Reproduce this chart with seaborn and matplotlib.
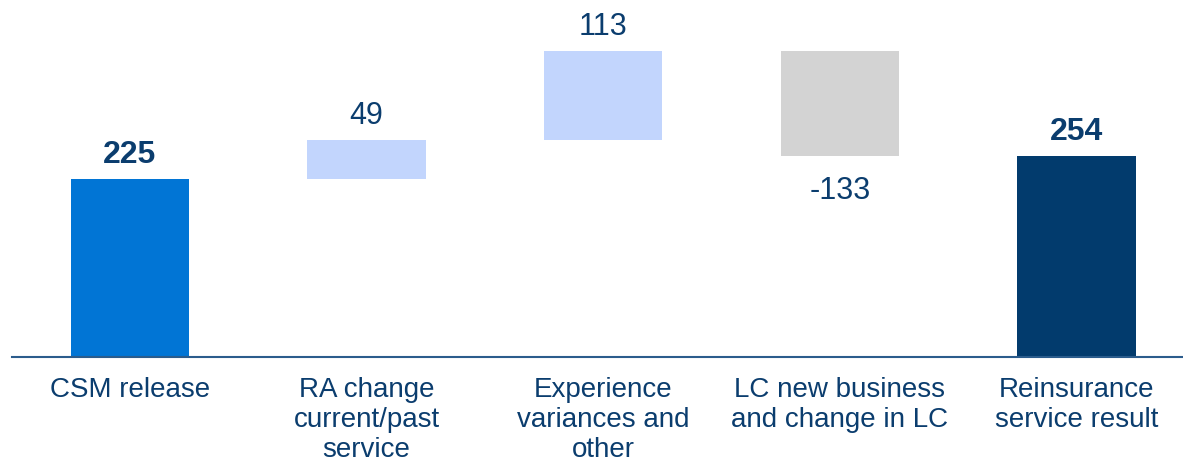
import matplotlib
matplotlib.use("Agg")
import matplotlib.pyplot as plt
import seaborn as sns
import numpy as np
import pandas as pd

categories = ["CSM release", "RA change\ncurrent/past\nservice", "Experience\nvariances and\nother",
              "LC new business\nand change in LC", "Reinsurance\nservice result"]
values = [225, 49, 113, -133, 254]
is_total = [True, False, False, False, True]
bar_colors = ["#0175D5", "#C2D5FD", "#C2D5FD", "#D3D3D3", "#023B6D"]

# waterfall bottoms from running totals
bottoms = []
running = 0
for v, t in zip(values, is_total):
    if t:
        bottoms.append(0)
        running = v
    else:
        bottoms.append(running)
        running += v

sns.set_theme(style="white")
plt.rcParams["font.family"] = ["Liberation Sans", "DejaVu Sans"]

text_color = "#0B3D6E"
fig = plt.figure(figsize=(11.83, 4.61), dpi=100)
ax = fig.add_axes([12 / 1183, 104 / 461, 1 - 12 / 1183, 1 - 104 / 461])

df = pd.DataFrame({"cat": categories, "val": values, "bottom": bottoms})
sns.barplot(data=df, x="cat", y="val", bottom=df["bottom"].values, width=0.5,
            color=bar_colors[0], ax=ax, errorbar=None)
for patch, c in zip(ax.patches, bar_colors):
    patch.set_facecolor(c)
    patch.set_edgecolor("none")

ax.set_xlim(-0.498, 4.45)
ax.set_ylim(0, 451)
for s in ["top", "right", "left"]:
    ax.spines[s].set_visible(False)
ax.spines["bottom"].set_color("#2B5C8C")
ax.spines["bottom"].set_linewidth(1.5)
ax.set_yticks([])
ax.set_xlabel("")
ax.set_ylabel("")
ax.set_xticks(range(len(categories)))
ax.set_xticklabels(categories, fontsize=20, color=text_color, linespacing=1.2)
ax.tick_params(axis="x", length=0, pad=14.5)

for i, (v, b, t) in enumerate(zip(values, bottoms, is_total)):
    label = f"{v}"
    weight = "bold" if t else "normal"
    size = 23 if t else 22
    if v >= 0:
        ax.annotate(label, (i, b + v), xytext=(0, 6.5), textcoords="offset points",
                    ha="center", va="bottom", fontsize=size, color=text_color, fontweight=weight)
    else:
        ax.annotate(label, (i, b + v), xytext=(0, -14.5), textcoords="offset points",
                    ha="center", va="top", fontsize=size, color=text_color, fontweight=weight)

fig.savefig("out.png", dpi=100)
